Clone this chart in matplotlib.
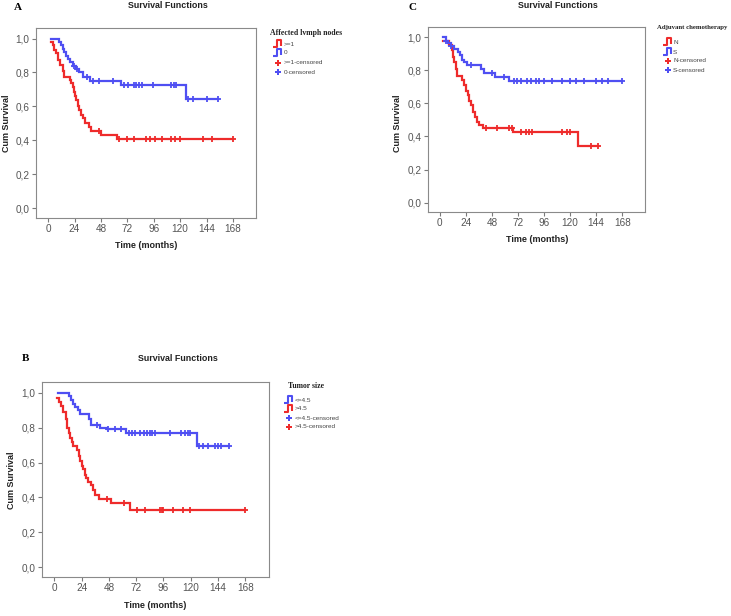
import numpy as np
import matplotlib
matplotlib.use("Agg")
import matplotlib.pyplot as plt
from matplotlib.ticker import FuncFormatter, FixedLocator
from matplotlib.lines import Line2D
from matplotlib.path import Path

# ---------------- DATA ----------------
x_ticks = [0, 24, 48, 72, 96, 120, 144, 168]
y_ticks = [0.0, 0.2, 0.4, 0.6, 0.8, 1.0]

# Panel A : Affected lymph nodes
a_pos_t = [2.4, 4.0, 5.5, 7.0, 9.4, 10.9, 13.1, 14.6, 19.8, 20.7, 22.2, 23.7, 24.6, 25.8,
           27.1, 28.3, 29.8, 31.3, 33.7, 36.8, 38.9, 48.0, 62.3, 168]
a_pos_s = [0.98, 0.96, 0.935, 0.915, 0.876, 0.846, 0.807, 0.773, 0.757, 0.738, 0.714, 0.688,
           0.659, 0.639, 0.600, 0.580, 0.550, 0.531, 0.501, 0.481, 0.455, 0.432, 0.406, 0.406]
a_pos_c = [46, 64, 71.5, 78.5, 89, 92.7, 97.5, 103.6, 112, 115, 119.5, 140.7, 149.2, 168]
a_neg_t = [2.4, 10.0, 11.6, 13.1, 14.6, 16.1, 18.2, 20.1, 22.2, 25.8, 28.3, 31.3, 38.0, 66.3, 125.5, 154.4]
a_neg_s = [1.0, 0.98, 0.96, 0.94, 0.92, 0.90, 0.88, 0.86, 0.84, 0.82, 0.80, 0.775, 0.75, 0.725, 0.645, 0.645]
a_neg_c = [23.5, 26.5, 35, 40.4, 46.5, 58.7, 69.3, 72.3, 78.4, 79.9, 82.4, 85.4, 95.2, 111.9,
           114.9, 116.4, 127, 131.7, 144.4, 154.4]

# Panel C : Adjuvant chemotherapy
c_n_t = [3.1, 8.3, 11.1, 11.7, 12.9, 14.4, 16.0, 20.6, 22.1, 23.6, 25.8, 27.0, 28.9, 30.7,
         32.6, 34.4, 35.9, 39.9, 67.6, 127.1, 145.9]
c_n_s = [0.975, 0.955, 0.92, 0.88, 0.85, 0.81, 0.765, 0.74, 0.71, 0.675, 0.65, 0.615, 0.59,
         0.55, 0.515, 0.49, 0.47, 0.452, 0.427, 0.342, 0.342]
c_n_c = [42.1, 52.8, 63.6, 66.6, 74.3, 79, 81.7, 85.1, 112.6, 117.2, 119.8, 138.8, 145.9]
c_s_t = [3.1, 5.2, 7.7, 9.8, 12.9, 16.6, 18.4, 20.6, 22.1, 24.6, 38.1, 40.5, 50.4, 63.6, 168]
c_s_s = [1.0, 0.98, 0.965, 0.95, 0.93, 0.91, 0.89, 0.865, 0.85, 0.83, 0.81, 0.785, 0.76, 0.735, 0.735]
c_s_c = [6, 10.5, 28.3, 48.2, 59, 68.4, 71.4, 74.5, 80.6, 83.7, 88.9, 91.4, 96, 103.7, 112.9,
         119.9, 125.2, 132.9, 143.6, 149.8, 155, 168]

# Panel B : Tumor size
b_small_t = [2.9, 13.1, 14.5, 16.0, 18.0, 20.3, 22.4, 30.5, 32.0, 40.1, 45.9, 63.4, 125.6, 153.5]
b_small_s = [1.0, 0.98, 0.96, 0.935, 0.92, 0.90, 0.88, 0.85, 0.815, 0.80, 0.795, 0.77, 0.695, 0.695]
b_small_c = [37.8, 47.1, 52.9, 58.7, 65.4, 68.3, 71.2, 75.6, 78.5, 81.4, 84.3, 85.8, 88.7, 101.7,
             111.9, 114.8, 117.7, 119.2, 127.3, 130.8, 135.2, 141, 143.9, 146.8, 153.5]
b_large_t = [2.3, 4.4, 5.8, 7.3, 10.5, 11.3, 12.5, 13.7, 15.1, 16.0, 19.8, 21.2, 22.7, 24.1,
             25.3, 26.7, 27.9, 29.1, 32.6, 34.3, 36.0, 39.0, 50.0, 66.9, 168]
b_large_s = [0.97, 0.95, 0.925, 0.89, 0.85, 0.80, 0.77, 0.74, 0.72, 0.695, 0.67, 0.635, 0.61,
             0.58, 0.56, 0.53, 0.51, 0.49, 0.47, 0.44, 0.415, 0.39, 0.365, 0.33, 0.33]
b_large_c = [46.5, 61, 72.7, 80, 93.1, 94.6, 96, 104.5, 113.2, 119.3, 168]

RED = "#ee2b2b"
BLUE = "#4f4ff2"

# ---------------- LAYOUT HELPERS ----------------
W, H = 731, 616
fig = plt.figure(figsize=(W / 100, H / 100), dpi=100)
fig.patch.set_facecolor("white")

SANS = "Liberation Sans"
SERIF = "Liberation Serif"


def px_axes(l, t, r, b):
    return fig.add_axes([l / W, 1 - b / H, (r - l) / W, (b - t) / H])


def ftext(x, y, s, **kw):
    fig.text(x / W, 1 - y / H, s, **kw)


def km(ax, t, s, c, color):
    ax.step(t, s, where="post", color=color, lw=1.6, solid_joinstyle="miter")
    t = np.asarray(t)
    s = np.asarray(s)
    idx = np.searchsorted(t, np.asarray(c), side="right") - 1
    idx = np.clip(idx, 0, len(s) - 1)
    ax.plot(c, s[idx], ls="none", marker="+", ms=4.5, mew=1.3, color=color)


def style(ax):
    ax.set_xlim(-11, 189)
    ax.set_ylim(-0.057, 1.062)
    ax.xaxis.set_major_locator(FixedLocator(x_ticks))
    ax.yaxis.set_major_locator(FixedLocator(y_ticks))
    ax.yaxis.set_major_formatter(FuncFormatter(lambda v, p: f"{v:.1f}".replace(".", ",")))
    ax.tick_params(direction="out", length=3, width=0.8, color="#7a7a7a",
                   labelcolor="#555555", labelsize=7.2, pad=1.5)
    for lab in ax.get_xticklabels() + ax.get_yticklabels():
        lab.set_fontfamily(SANS)
    for sp in ax.spines.values():
        sp.set_color("#8a8a8a")
        sp.set_linewidth(0.8)


step_marker = Path([(-1.0, -0.7), (-0.3, -0.7), (-0.3, 0.8), (0.6, 0.8), (0.6, -0.4)],
                   [Path.MOVETO, Path.LINETO, Path.LINETO, Path.LINETO, Path.LINETO])


def legend(x_title, y_title, x_icon, x_text, rows, title, entries, title_size=5.6):
    ftext(x_title, y_title, title, fontsize=title_size, fontweight="bold", family=SERIF,
          ha="left", va="center", color="#222222")
    for (kind, color, label), yy in zip(entries, rows):
        if kind == "step":
            fig.add_artist(Line2D([x_icon / W], [1 - yy / H], marker=step_marker, ms=7,
                                  mew=1.5, mfc="none", mec=color, ls="none",
                                  transform=fig.transFigure))
        else:
            fig.add_artist(Line2D([x_icon / W], [1 - yy / H], marker="P", ms=4.5,
                                  mew=0, color=color, ls="none", transform=fig.transFigure))
        ftext(x_text, yy, label, fontsize=4.6, family=SANS, ha="left", va="center",
              color="#444444")


def labels(xt, yt, letter_xy, letter, ylab_xy, xlab_xy):
    ftext(xt, yt, "Survival Functions", fontsize=6.4, fontweight="bold", family=SANS,
          ha="center", va="center", color="#222222")
    ftext(letter_xy[0], letter_xy[1], letter, fontsize=8, fontweight="bold", family=SERIF,
          ha="center", va="center")
    ftext(ylab_xy[0], ylab_xy[1], "Cum Survival", fontsize=6.5, fontweight="bold",
          family=SANS, rotation=90, ha="center", va="center", color="#222222")
    ftext(xlab_xy[0], xlab_xy[1], "Time (months)", fontsize=6.5, fontweight="bold",
          family=SANS, ha="center", va="center", color="#222222")


# ---------------- PANEL A ----------------
axA = px_axes(36, 28, 256, 218)
km(axA, a_pos_t, a_pos_s, a_pos_c, RED)
km(axA, a_neg_t, a_neg_s, a_neg_c, BLUE)
style(axA)
labels(168, 6, (18, 8), "A", (7, 123), (146, 245))
legend(270, 33, 278, 284, [44, 53, 63, 72], "Affected lvmph nodes",
       [("step", RED, ">=1"), ("step", BLUE, "0"),
        ("cens", RED, ">=1-censored"), ("cens", BLUE, "0-censored")])

# ---------------- PANEL C ----------------
axC = px_axes(428, 27, 645, 212)
km(axC, c_n_t, c_n_s, c_n_c, RED)
km(axC, c_s_t, c_s_s, c_s_c, BLUE)
style(axC)
labels(558, 5, (412, 7), "C", (398, 123), (537, 240))
legend(657, 27, 668, 673, [42, 52, 61, 70], "Adjuvant chemotherapy",
       [("step", RED, "N"), ("step", BLUE, "S"),
        ("cens", RED, "N-censored"), ("cens", BLUE, "S-censored")], title_size=4.9)

# ---------------- PANEL B ----------------
axB = px_axes(42, 382, 269, 577)
km(axB, b_small_t, b_small_s, b_small_c, BLUE)
km(axB, b_large_t, b_large_s, b_large_c, RED)
style(axB)
labels(178, 358, (26, 358), "B", (12, 480), (155, 605))
legend(288, 386, 289, 295, [400, 409, 418, 427], "Tumor size",
       [("step", BLUE, "<=4.5"), ("step", RED, ">4.5"),
        ("cens", BLUE, "<=4.5-censored"), ("cens", RED, ">4.5-censored")])

fig.savefig("out.png", dpi=100, facecolor="white")
